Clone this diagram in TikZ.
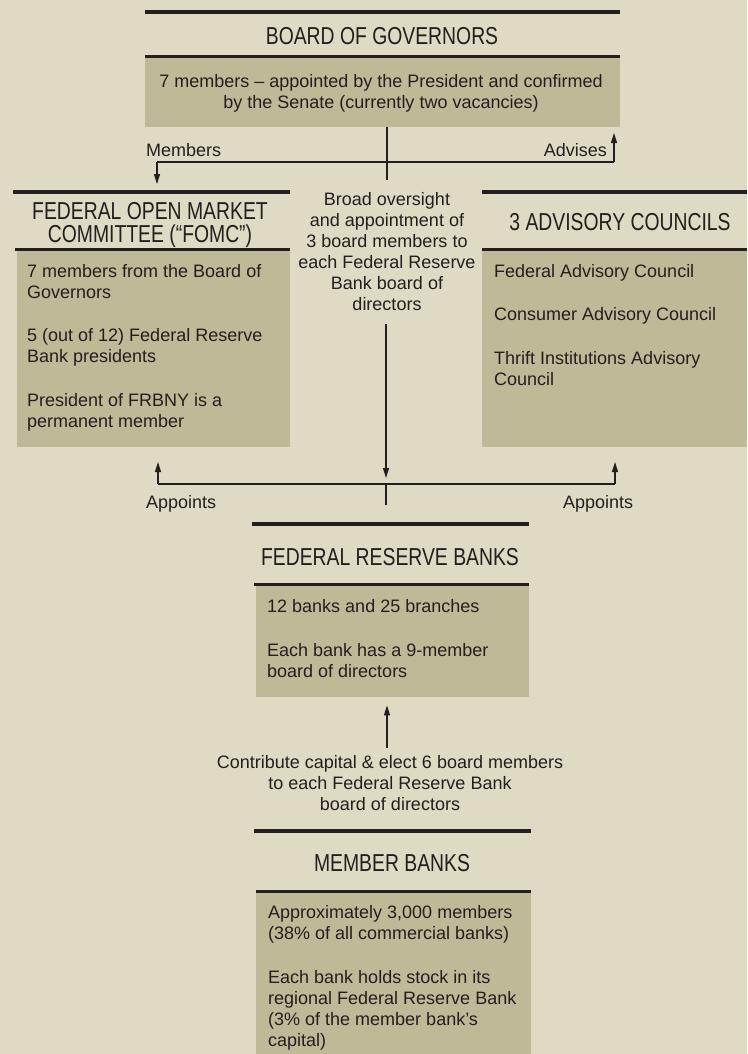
\documentclass[tikz,border=0pt]{standalone}
\usepackage{fontspec}
\setmainfont{Liberation Sans}
\newfontfamily\headfont[FakeStretch=0.79]{Liberation Sans}
\usepackage{xcolor}
\usepackage{tikz}
\usetikzlibrary{arrows.meta,positioning}
\definecolor{paper}{RGB}{222,218,195}
\definecolor{khaki}{RGB}{190,185,150}
\definecolor{ink}{RGB}{35,31,32}

\begin{document}
\begin{tikzpicture}[
			x=1pt,y=-1pt,
			every node/.style={inner sep=0pt,text=ink,font=\fontsize{18}{21}\selectfont},
			heading/.style={font=\headfont\fontsize{24.5}{23}\selectfont,align=center,anchor=base},
			panel/.style={fill=khaki,anchor=north west},
			body/.style={align=left,anchor=base west},
			blurb/.style={align=center,anchor=base},
			toprule/.style={draw=ink,line width=4pt},
			midrule/.style={draw=ink,line width=3pt},
			link/.style={draw=ink,line width=1.3pt},
			tip/.style={link,-{Triangle[width=6pt,length=10pt]}}
			]
			\def\gap{22.5pt}
			\useasboundingbox (0,0) rectangle (747,1054);
			\fill[paper] (0,0) rectangle (747,1054);

			\node[panel,minimum width=475pt,minimum height=70pt] (bogbox) at (145,57) {};
			\node[panel,minimum width=273pt,minimum height=198pt] (fomcbox) at (17,249) {};
			\node[panel,minimum width=265pt,minimum height=198pt] (advbox) at (482,249) {};
			\node[panel,minimum width=273pt,minimum height=113pt] (frbbox) at (256,584) {};
			\node[panel,minimum width=275pt,minimum height=163pt] (mbbox) at (256,891) {};

			\draw[toprule] (145,12) -- (620,12);
			\draw[midrule] (145,57) -- (620,57);
			\draw[toprule] (13,192) -- (290,192);
			\draw[midrule] (15,249) -- (290,249);
			\draw[toprule] (482,192) -- (747,192);
			\draw[midrule] (482,249) -- (747,249);
			\draw[toprule] (252,524) -- (529,524);
			\draw[midrule] (254,584) -- (529,584);
			\draw[toprule] (254,831) -- (531,831);
			\draw[midrule] (256,891) -- (531,891);

			\node[heading] (bogtitle) at (382,45) {BOARD OF GOVERNORS};
			\node[heading] (fomctitle) at (150,242) {FEDERAL OPEN MARKET\\COMMITTEE (“FOMC”)};
			\node[heading] (advtitle) at (620,230) {3 ADVISORY COUNCILS};
			\node[heading] (frbtitle) at (390,565) {FEDERAL RESERVE BANKS};
			\node[heading] (mbtitle) at (392,871) {MEMBER BANKS};

			\node[blurb] (bogtext) at (381,109) {7 members – appointed by the President and confirmed\\by the Senate (currently two vacancies)};
			\node[body] (fomctext) at (27,427) {7 members from the Board of\\Governors\\[\gap]5 (out of 12) Federal Reserve\\Bank presidents\\[\gap]President of FRBNY is a\\permanent member};
			\node[body] (advtext) at (494,385) {Federal Advisory Council\\[\gap]Consumer Advisory Council\\[\gap]Thrift Institutions Advisory\\Council};
			\node[body] (frbtext) at (267,677) {12 banks and 25 branches\\[\gap]Each bank has a 9-member\\board of directors};
			\node[body] (mbtext) at (268,1046) {Approximately 3,000 members\\(38\% of all commercial banks)\\[\gap]Each bank holds stock in its\\regional Federal Reserve Bank\\(3\% of the member bank’s\\capital)};

			\node[blurb] (oversight) at (387,310) {Broad oversight\\and appointment of\\3 board members to\\each Federal Reserve\\Bank board of\\directors};
			\node[blurb] (contribute) at (390,810) {Contribute capital \& elect 6 board members\\to each Federal Reserve Bank\\board of directors};

			\node[anchor=base west] (memberslbl) at (146,157) {Members};
			\node[anchor=base east] (adviseslbl) at (607,157) {Advises};
			\node[anchor=base west] (appointsl) at (146,508) {Appoints};
			\node[anchor=base west] (appointsr) at (563,508) {Appoints};

			\coordinate (bogsplit) at (387,162);
			\coordinate (bogstub) at (387,180);
			\coordinate (memleft) at (157,162);
			\coordinate (advright) at (614,162);
			\coordinate (apptsplit) at (386,484);
			\coordinate (apptstub) at (386,505);
			\coordinate (apptleft) at (158,484);
			\coordinate (apptright) at (615,484);
			\coordinate (capbase) at (387,748);

			\draw[link] (bogbox.south -| bogsplit) -- (bogstub);
			\draw[link] (memleft) -- (advright);
			\draw[tip] (memleft) -- ++(0,22);
			\draw[tip] (advright) -- ++(0,-29);

			\draw[tip] ([yshift=-14pt]oversight.south -| apptsplit) -- ([yshift=6pt]apptsplit);
			\draw[link] (apptleft) -- (apptright);
			\draw[link] (apptsplit) -- (apptstub);
			\draw[tip] (apptleft) -- (apptleft |- 0,462);
			\draw[tip] (apptright) -- (apptright |- 0,462);

			\draw[tip] (capbase) -- ([yshift=-8pt]frbbox.south -| capbase);

\end{tikzpicture}
\end{document}
